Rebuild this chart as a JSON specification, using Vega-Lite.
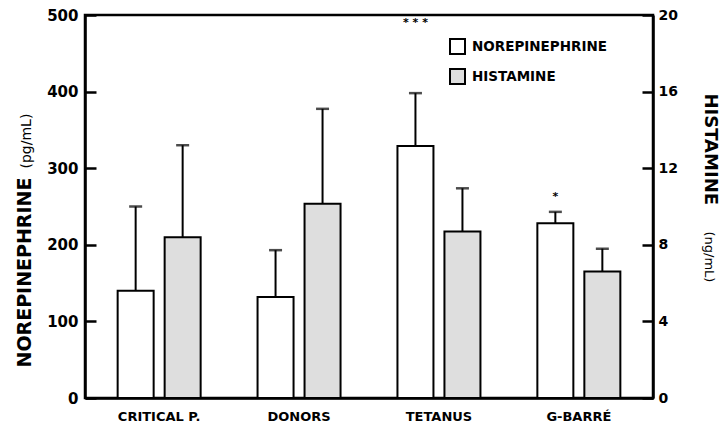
{
  "$schema": "https://vega.github.io/schema/vega-lite/v6.json",
  "width": 568,
  "height": 383,
  "autosize": {"type": "none"},
  "padding": {"left": 85, "top": 15, "right": 68, "bottom": 27},
  "background": "white",
  "config": {
    "view": {"stroke": "black", "strokeWidth": 2.5},
    "font": "DejaVu Sans",
    "axis": {"grid": false, "domainColor": "black", "domainWidth": 2.5, "tickColor": "black", "labelColor": "black", "titleColor": "black"}
  },
  "datasets": {
    "bars": [
      {"group": "CRITICAL P.", "series": "NOREPINEPHRINE", "value": 140, "upper": 250},
      {"group": "CRITICAL P.", "series": "HISTAMINE", "value": 8.4, "upper": 13.2},
      {"group": "DONORS", "series": "NOREPINEPHRINE", "value": 132, "upper": 193},
      {"group": "DONORS", "series": "HISTAMINE", "value": 10.15, "upper": 15.1},
      {"group": "TETANUS", "series": "NOREPINEPHRINE", "value": 329, "upper": 398},
      {"group": "TETANUS", "series": "HISTAMINE", "value": 8.7, "upper": 10.95},
      {"group": "G-BARRÉ", "series": "NOREPINEPHRINE", "value": 228, "upper": 243},
      {"group": "G-BARRÉ", "series": "HISTAMINE", "value": 6.6, "upper": 7.8}
    ],
    "notes": [
      {"group": "TETANUS", "series": "NOREPINEPHRINE", "label": "* * *", "level": 490},
      {"group": "G-BARRÉ", "series": "NOREPINEPHRINE", "label": "*", "level": 263}
    ]
  },
  "data": {"name": "bars"},
  "encoding": {
    "x": {
      "field": "group", "type": "nominal",
      "sort": ["CRITICAL P.", "DONORS", "TETANUS", "G-BARRÉ"],
      "scale": {"paddingInner": 0, "paddingOuter": 0.03},
      "axis": {"orient": "bottom", "title": null, "ticks": false, "labelAngle": 0, "labelFont": "DejaVu Sans", "labelFontWeight": "bold", "labelFontSize": 13, "labelPadding": 12}
    },
    "xOffset": {
      "field": "series", "type": "nominal",
      "sort": ["NOREPINEPHRINE", "HISTAMINE"],
      "scale": {"domain": ["NOREPINEPHRINE", "HISTAMINE"], "paddingInner": 0.234, "paddingOuter": 0.6055}
    }
  },
  "layer": [
    {
      "transform": [{"filter": "datum.series === 'NOREPINEPHRINE'"}],
      "layer": [
        {
          "mark": {"type": "bar", "stroke": "black", "strokeWidth": 2},
          "encoding": {
            "y": {
              "field": "value", "type": "quantitative",
              "scale": {"domain": [0, 500], "nice": false},
              "axis": {
                "orient": "left", "values": [0, 100, 200, 300, 400, 500],
                "tickSize": -11, "tickWidth": 2.5, "labelPadding": 18,
                "labelFont": "DejaVu Sans", "labelFontWeight": "bold", "labelFontSize": 15,
                "title": "NOREPINEPHRINE", "titleFont": "DejaVu Sans", "titleFontWeight": "bold", "titleFontSize": 19,
                "titleAngle": -90, "titleAlign": "left", "titleBaseline": "alphabetic",
                "titleX": -55, "titleY": 352
              }
            },
            "fill": {
              "field": "series", "type": "nominal",
              "scale": {"domain": ["NOREPINEPHRINE", "HISTAMINE"], "range": ["white", "#dedede"]},
              "legend": {
                "orient": "none", "legendX": 364, "legendY": 23, "title": null,
                "symbolType": "square", "symbolSize": 225, "symbolStrokeColor": "black", "symbolStrokeWidth": 2,
                "labelFont": "DejaVu Sans", "labelFontWeight": "bold", "labelFontSize": 13.5, "labelColor": "black",
                "labelOffset": 6, "rowPadding": 7, "padding": 0
              }
            }
          }
        },
        {
          "mark": {"type": "rule", "stroke": "black", "strokeWidth": 2},
          "encoding": {
            "y": {"field": "value", "type": "quantitative", "axis": null},
            "y2": {"field": "upper"}
          }
        },
        {
          "mark": {"type": "tick", "color": "black", "size": 13, "thickness": 2.5},
          "encoding": {
            "y": {"field": "upper", "type": "quantitative", "axis": null}
          }
        },
        {
          "data": {"name": "notes"},
          "mark": {"type": "text", "fontSize": 11, "fontWeight": "bold", "baseline": "middle", "color": "black"},
          "encoding": {
            "y": {
              "field": "level", "type": "quantitative",
              "axis": {
                "orient": "left", "labels": false, "ticks": false, "domain": false,
                "title": "(pg/mL)", "titleFont": "DejaVu Sans", "titleFontWeight": "normal", "titleFontSize": 14,
                "titleAngle": -90, "titleAlign": "left", "titleBaseline": "alphabetic",
                "titleX": -55, "titleY": 153
              }
            },
            "text": {"field": "label"}
          }
        }
      ],
      "resolve": {"axis": {"y": "independent"}}
    },
    {
      "transform": [{"filter": "datum.series === 'HISTAMINE'"}],
      "layer": [
        {
          "mark": {"type": "bar", "stroke": "black", "strokeWidth": 2},
          "encoding": {
            "y": {
              "field": "value", "type": "quantitative",
              "scale": {"domain": [0, 20], "nice": false},
              "axis": {
                "orient": "right", "values": [0, 4, 8, 12, 16, 20],
                "tickSize": -11, "tickWidth": 2.5, "labelPadding": 16,
                "labelFont": "DejaVu Sans", "labelFontWeight": "bold", "labelFontSize": 14,
                "title": "HISTAMINE", "titleFont": "DejaVu Sans", "titleFontWeight": "bold", "titleFontSize": 18,
                "titleAngle": 90, "titleAlign": "left", "titleBaseline": "alphabetic",
                "titleX": 51, "titleY": 78
              }
            },
            "fill": {"field": "series", "type": "nominal"}
          }
        },
        {
          "mark": {"type": "rule", "stroke": "black", "strokeWidth": 2},
          "encoding": {
            "y": {
              "field": "value", "type": "quantitative",
              "axis": {
                "orient": "right", "labels": false, "ticks": false, "domain": false,
                "title": "(ng/mL)", "titleFont": "DejaVu Sans", "titleFontWeight": "normal", "titleFontSize": 13,
                "titleAngle": 90, "titleAlign": "left", "titleBaseline": "alphabetic",
                "titleX": 51, "titleY": 216
              }
            },
            "y2": {"field": "upper"}
          }
        },
        {
          "mark": {"type": "tick", "color": "black", "size": 13, "thickness": 2.5},
          "encoding": {
            "y": {"field": "upper", "type": "quantitative", "axis": null}
          }
        }
      ],
      "resolve": {"axis": {"y": "independent"}}
    }
  ],
  "resolve": {"scale": {"y": "independent"}}
}
